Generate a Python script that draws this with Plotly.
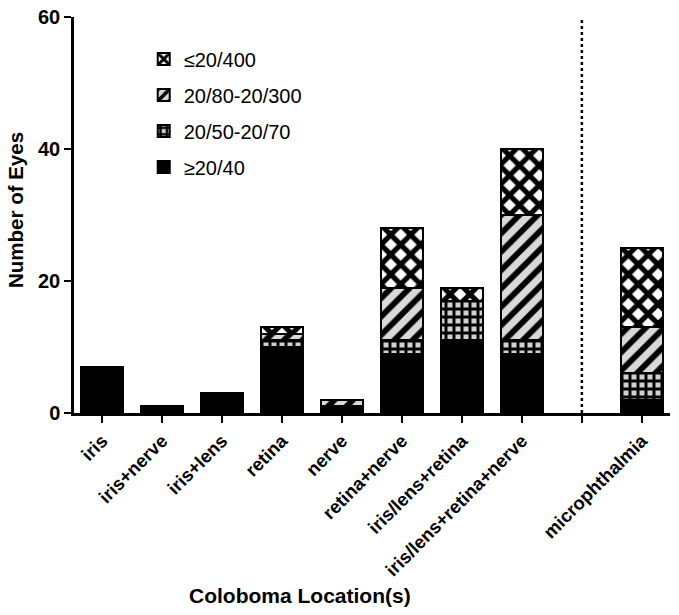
import plotly.graph_objects as go

categories = ["iris", "iris+nerve", "iris+lens", "retina", "nerve", "retina+nerve",
              "iris/lens+retina", "iris/lens+retina+nerve", " ", "microphthalmia"]
good = [7, 1, 3, 10, 1, 9, 11, 9, None, 2]          # >=20/40
mid = [0, 0, 0, 1, 0, 2, 6, 2, None, 4]             # 20/50-20/70
low = [0, 0, 0, 1, 1, 8, 0, 19, None, 7]            # 20/80-20/300
blind = [0, 0, 0, 1, 0, 9, 2, 10, None, 12]         # <=20/400
series_names = ["≥20/40", "20/50-20/70", "20/80-20/300", "≤20/400"]
y_ticks = [0, 20, 40, 60]

FONT = "Arial, Liberation Sans, Helvetica, sans-serif"

patterns = [
    dict(shape="", fgcolor="black", bgcolor="black"),
    dict(shape="+", fgcolor="black", bgcolor="#d0d0d0", size=8, solidity=0.6,
         fgopacity=1, fillmode="replace"),
    dict(shape="/", fgcolor="black", bgcolor="#d9d9d9", size=13, solidity=0.45,
         fgopacity=1, fillmode="replace"),
    dict(shape="x", fgcolor="black", bgcolor="white", size=14, solidity=0.6,
         fgopacity=1, fillmode="replace"),
]
colors = ["black", "#d0d0d0", "#d9d9d9", "white"]

fig = go.Figure()
xs = list(range(len(categories)))
for i, (name, vals) in enumerate(zip(series_names, [good, mid, low, blind])):
    fig.add_trace(go.Bar(
        x=xs, y=vals, name=name, width=0.7,
        legendgroup=name, legendrank=10 - i,
        marker=dict(color=colors[i], pattern=patterns[i],
                    line=dict(color="black", width=2)),
    ))

fig.add_shape(type="line", xref="x", yref="y", x0=8, x1=8, y0=0, y1=60,
              line=dict(color="black", width=2.5, dash="dot"))

# axis titles placed as annotations
fig.add_annotation(text="<b>Coloboma Location(s)</b>", xref="paper", yref="paper",
                   x=(300 - 74) / 596, y=-(595 - 413) / 396, xanchor="center",
                   yanchor="middle", showarrow=False,
                   font=dict(family=FONT, size=21, color="black"))
fig.add_annotation(text="<b>Number of Eyes</b>", xref="paper", yref="paper",
                   x=(15 - 74) / 596, y=(413 - 210) / 396, xanchor="center",
                   yanchor="middle", showarrow=False, textangle=-90,
                   font=dict(family=FONT, size=20.5, color="black"))

fig.update_layout(
    barmode="stack",
    width=679, height=615,
    margin=dict(l=74, r=9, t=17, b=202, autoexpand=False),
    plot_bgcolor="white", paper_bgcolor="white",
    font=dict(family=FONT, color="black"),
    legend=dict(x=0.117, y=0.943, xanchor="left", yanchor="top",
                traceorder="grouped", tracegroupgap=7,
                font=dict(family=FONT, size=20, color="black"),
                bgcolor="rgba(0,0,0,0)"),
    showlegend=True,
)
fig.update_xaxes(
    tickmode="array", tickvals=xs,
    ticktext=["<b>%s</b>" % c for c in categories],
    tickangle=-45, range=[-0.47, 9.47],
    showline=True, linecolor="black", linewidth=2.5,
    ticks="outside", ticklen=7, tickwidth=2, tickcolor="black",
    tickfont=dict(family=FONT, size=18.5, color="black"),
    showgrid=False, zeroline=False, automargin=False,
)
fig.update_yaxes(
    range=[0, 60], tickmode="array", tickvals=y_ticks,
    ticktext=["<b>%d</b>" % v for v in y_ticks],
    showline=True, linecolor="black", linewidth=2.5,
    ticks="outside", ticklen=7, tickwidth=2, tickcolor="black",
    tickfont=dict(family=FONT, size=20, color="black"),
    showgrid=False, zeroline=False, automargin=False,
)

fig.write_html("out.html", config={"displayModeBar": False},
               post_script="document.body.style.margin='0';")
